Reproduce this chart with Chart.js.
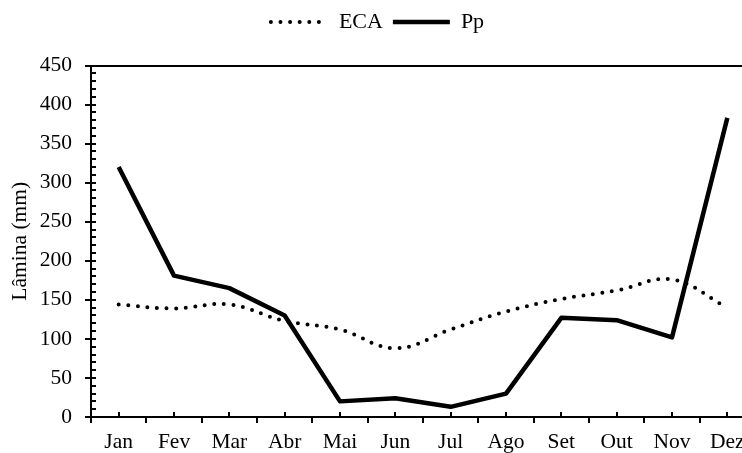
<!DOCTYPE html>
<html>
<head>
<meta charset="utf-8">
<script src="https://cdn.jsdelivr.net/npm/chart.js@4.4.1/dist/chart.umd.min.js"></script>
<style>
  html, body { margin: 0; padding: 0; background: #fff; overflow: hidden; }
  #wrap { width: 755px; height: 453px; }
</style>
</head>
<body>
<div id="wrap"><canvas id="chart"></canvas></div>
<script>
const months = ["Jan", "Fev", "Mar", "Abr", "Mai", "Jun", "Jul", "Ago", "Set", "Out", "Nov", "Dez"];
const ecaValues = [144, 139, 144, 123, 112, 88, 112, 135, 151, 162, 176, 140];
const ppValues = [320, 181, 165, 130, 20, 24, 13, 30, 127, 124, 102, 383];
const yMin = 0;
const yMax = 450;
const yMajorStep = 50;
const yMinorStep = 10;

const FONT = "'Liberation Serif', 'Times New Roman', serif";

// small tick marks drawn inside the plot (y minor ticks, x ticks at month centres)
const innerTicks = {
  id: "innerTicks",
  beforeDatasetsDraw(chart) {
    const { ctx, scales: { x, y } } = chart;
    ctx.save();
    ctx.strokeStyle = "#000";
    ctx.lineWidth = 2;
    ctx.beginPath();
    for (let v = yMin; v <= yMax; v += yMinorStep) {
      const py = Math.round(y.getPixelForValue(v));
      ctx.moveTo(x.left, py);
      ctx.lineTo(x.left + 5, py);
    }
    months.forEach((m, i) => {
      const px = Math.round(x.getPixelForValue(i));
      ctx.moveTo(px, y.bottom);
      ctx.lineTo(px, y.bottom - 5);
    });
    ctx.stroke();
    ctx.restore();
  },
};

const ctx = document.getElementById("chart").getContext("2d");
new Chart(ctx, {
  type: "line",
  data: {
    labels: months,
    datasets: [
      {
        label: "ECA",
        data: ecaValues,
        borderColor: "#000",
        borderWidth: 4,
        borderDash: [0, 9.6],
        borderCapStyle: "round",
        tension: 0.4,
        pointRadius: 0,
        fill: false,
      },
      {
        label: "Pp",
        data: ppValues,
        borderColor: "#000",
        borderWidth: 4.5,
        borderJoinStyle: "round",
        tension: 0,
        pointRadius: 0,
        fill: false,
      },
    ],
  },
  options: {
    responsive: true,
    maintainAspectRatio: false,
    animation: false,
    layout: { padding: { top: 1, left: 0, right: 0, bottom: 0 } },
    plugins: {
      tooltip: { enabled: false },
      // empty subtitle used as spacer between legend and plot
      subtitle: {
        display: true,
        text: "",
        position: "top",
        weight: 500,
        font: { size: 10 },
        padding: { top: 0, bottom: 10.5 },
      },
      legend: {
        position: "top",
        labels: {
          color: "#000",
          font: { family: FONT, size: 22 },
          usePointStyle: true,
          pointStyleWidth: 57,
          boxHeight: 4,
          padding: 10,
          generateLabels(chart) {
            return chart.data.datasets.map((ds, i) => ({
              text: ds.label,
              datasetIndex: i,
              pointStyle: "line",
              fillStyle: "#000",
              strokeStyle: "#000",
              fontColor: "#000",
              lineWidth: ds.borderWidth,
              lineDash: ds.borderDash || [],
              lineCap: ds.borderCapStyle || "butt",
              hidden: false,
            }));
          },
        },
      },
    },
    scales: {
      x: {
        offset: true,
        afterFit(scale) {
          scale.height = 36;
        },
        grid: {
          offset: true,
          drawOnChartArea: false,
          drawTicks: true,
          tickLength: 6,
          color: "#000",
          lineWidth: 2,
        },
        border: { display: true, color: "#000", width: 2 },
        ticks: {
          color: "#000",
          font: { family: FONT, size: 21.5 },
          padding: 6,
          maxRotation: 0,
          autoSkip: false,
        },
      },
      y: {
        min: yMin,
        max: yMax,
        afterFit(scale) {
          scale.width = 91;
        },
        grid: {
          drawOnChartArea: true,
          drawTicks: true,
          tickLength: 6,
          color: (c) => (c.tick && c.tick.value === yMax ? "#000" : "rgba(0,0,0,0)"),
          tickColor: "#000",
          lineWidth: 2,
        },
        border: { display: true, color: "#000", width: 2 },
        ticks: {
          stepSize: yMajorStep,
          color: "#000",
          font: { family: FONT, size: 21.5 },
          padding: 13,
        },
        title: {
          display: true,
          text: "Lâmina (mm)",
          color: "#000",
          font: { family: FONT, size: 21.5 },
          padding: { top: 7, bottom: 0 },
        },
      },
    },
  },
  plugins: [innerTicks],
});
</script>
</body>
</html>
